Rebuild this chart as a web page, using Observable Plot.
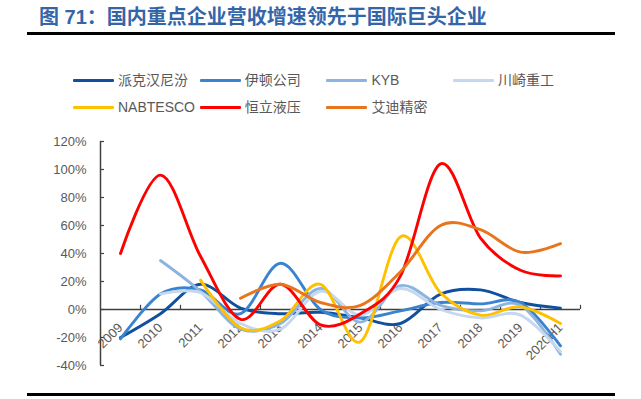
<!DOCTYPE html>
<html><head><meta charset="utf-8">
<script src="https://cdn.jsdelivr.net/npm/d3@7"></script>
<script src="https://cdn.jsdelivr.net/npm/@observablehq/plot@0.6"></script>
<style>
body{margin:0;background:#fff;width:641px;height:399px;position:relative;overflow:hidden;font-family:"Liberation Sans","Noto Sans CJK SC",sans-serif;}
#title{position:absolute;left:39px;top:4px;font-weight:bold;font-size:20px;font-family:"Liberation Sans","Noto Sans CJK SC",sans-serif;color:#3465a8;white-space:nowrap;line-height:26px}
.hr{position:absolute;left:27px;width:588px;height:3px;background:#000}
.item{position:absolute;display:flex;align-items:center;font-size:14px;color:#595959;white-space:nowrap;line-height:18px}
.sw{width:41px;height:3px;margin-right:4px;border-radius:1px}
#chart{position:absolute;left:0;top:120px}
</style></head><body>
<div id="title">图 71：国内重点企业营收增速领先于国际巨头企业</div>
<div class="hr" style="top:32px"></div>
<div id="legend"></div>
<div id="chart"></div>
<div class="hr" style="top:393px"></div>
<script>
const years = ["2009","2010","2011","2012","2013","2014","2015","2016","2017","2018","2019","2020H1"];
const yTicks = [-40, -20, 0, 20, 40, 60, 80, 100, 120];
const names = ["派克汉尼汾","伊顿公司","KYB","川崎重工","NABTESCO","恒立液压","艾迪精密"];
const colors = ["#10509f","#3a84cf","#8cb4e0","#c5d8ef","#ffc000","#ff0000","#e8741c"];
const parker   = [-20, -3, 18, 1, -3, -2, -6, -10, 11, 14, 5, 1];
const eaton    = [-21, 11, 14, -3, 33, 0, -6, -1, 5, 4, 5, -26];
const kyb      = [null, 35, 13, -14, -10, 15, -9, 17, 3, -1, 3, -32];
const kawasaki = [null, 11, 12, -10, -14, 13, -4, 15, 0, -6, -4, -30];
const nabtesco = [null, null, 21, -13, -8, 18, -23, 52, 12, -4, 2, -10];
const hengli   = [40, 96, 38, -7, 18, -11, -3, 24, 104, 51, 28, 24];
const aidi     = [null, null, null, 8, 18, 5, 3, 27, 60, 57, 41, 47];
const seriesValues = [parker, eaton, kyb, kawasaki, nabtesco, hengli, aidi];

const rows = [];
seriesValues.forEach((vals, s) => vals.forEach((v, i) => {
  if (v !== null) rows.push({name: names[s], year: years[i], value: v});
}));

// legend
const legend = document.getElementById("legend");
names.forEach((n, i) => {
  const el = document.createElement("div");
  el.className = "item";
  el.style.left = (73 + 126.7 * (i % 4)) + "px";
  el.style.top = (i < 4 ? 71 : 98) + "px";
  el.innerHTML = `<span class="sw" style="background:${colors[i]}"></span><span>${n}</span>`;
  legend.appendChild(el);
});

const chart = Plot.plot({
  width: 641, height: 279,
  marginLeft: 100, marginRight: 61, marginTop: 21, marginBottom: 34,
  x: {type: "band", domain: years, padding: 0, axis: null},
  y: {domain: [-40, 120]},
  color: {domain: names, range: colors},
  style: {fontFamily: "Liberation Sans, Arial, sans-serif", fontSize: "13px", color: "#595959", background: "white"},
  marks: [
    Plot.axisY(yTicks, {tickSize: 0, tickPadding: 14, tickFormat: d => d + "%", color: "#595959", label: null}),
    Plot.ruleX([years[0]], {x: d => d, dx: -20, y1: -40, y2: 120, stroke: "#404040", strokeWidth: 1.5}),
    Plot.tickY(yTicks, {x: () => years[0], y: d => d, insetRight: 36, stroke: "#404040", strokeWidth: 1.2}),
    Plot.ruleY([0], {stroke: "#404040", strokeWidth: 1.5}),
    Plot.ruleX(years, {x: d => d, dx: 20, y1: 0, y2: 3, stroke: "#404040", strokeWidth: 1.2}),
    Plot.text(years, {x: d => d, y: () => 0, text: d => d, rotate: -45, textAnchor: "end", dy: 16, fill: "#595959", fontSize: 13}),
    Plot.line(rows, {x: "year", y: "value", z: "name", stroke: "name", curve: "cardinal", strokeWidth: 2.9})
  ]
});
document.getElementById("chart").appendChild(chart);
</script>
</body></html>
